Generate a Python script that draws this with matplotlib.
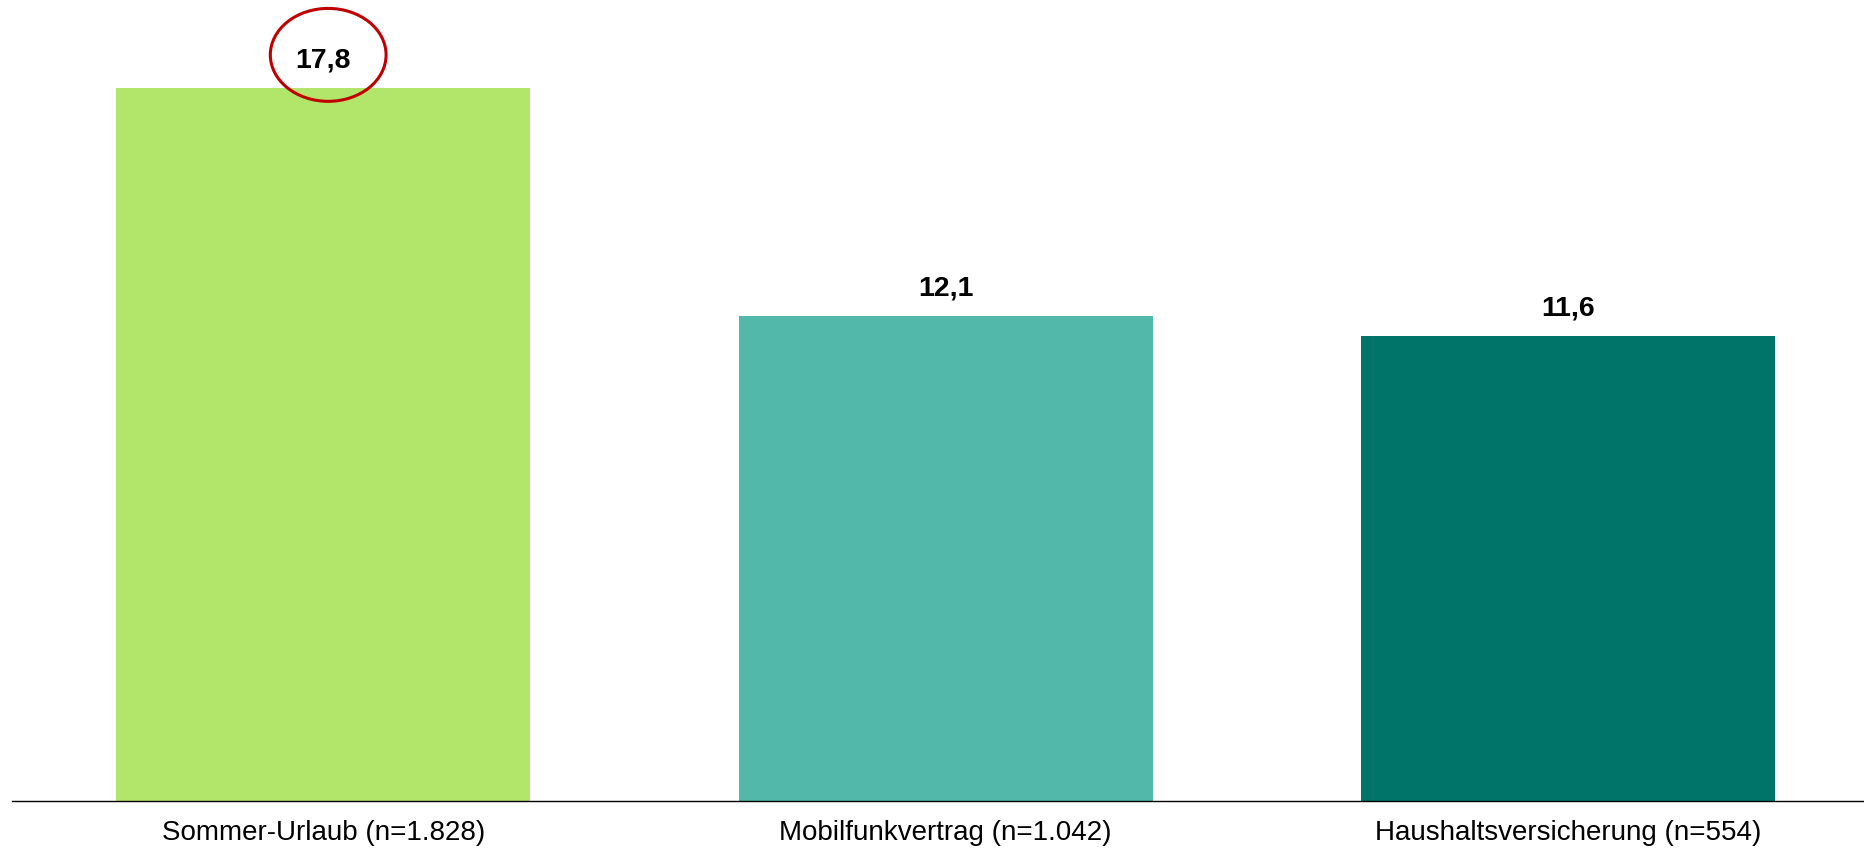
import matplotlib.pyplot as plt
from matplotlib.patches import Ellipse

plt.rcParams['font.family'] = ['Liberation Sans', 'DejaVu Sans']

categories = ['Sommer-Urlaub (n=1.828)', 'Mobilfunkvertrag (n=1.042)', 'Haushaltsversicherung (n=554)']
values = [17.8, 12.1, 11.6]
labels = ['17,8', '12,1', '11,6']
colors = ['#B2E66A', '#52B8AA', '#007468']

fig = plt.figure(figsize=(18.65, 8.49), dpi=100)
ax = fig.add_axes([12 / 1865, 48 / 849, 1853 / 1865, 801 / 849])

x = range(len(values))
ax.bar(x, values, width=0.665, color=colors)

for i, v in enumerate(values):
    ax.annotate(labels[i], (i, v), xytext=(0, 20), textcoords='offset points',
                ha='center', va='center', fontsize=20.5, fontweight='bold')

# red circle around the highest value
ax.add_patch(Ellipse((0.008, values[0] + 0.83), 0.186, 2.32, fill=False,
                     edgecolor='#C00000', linewidth=2.2, clip_on=False))

ax.set_xlim(-0.5, 2.477)
ax.set_ylim(0, 20)
ax.set_xticks(list(x))
ax.set_xticklabels(categories, fontsize=20)
ax.tick_params(axis='x', length=0, pad=14)
ax.set_yticks([])
for s in ['top', 'right', 'left']:
    ax.spines[s].set_visible(False)
ax.spines['bottom'].set_linewidth(1.0)

fig.savefig('out.png', dpi=100)
